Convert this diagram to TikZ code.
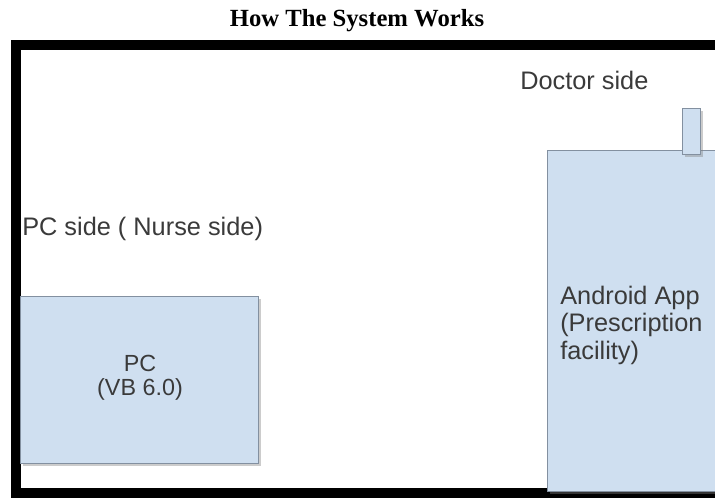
\documentclass[tikz,border=0pt]{standalone}
\usepackage{fontspec}
\setmainfont{Liberation Serif}
\setsansfont{Liberation Sans}
\usetikzlibrary{shadows}
\definecolor{boxfill}{HTML}{CFDFF0}
\definecolor{boxline}{HTML}{8390A0}
\definecolor{labeltext}{HTML}{3A3A3A}
\begin{document}
\begin{tikzpicture}[x=0.75pt,y=-0.75pt,
    box/.style={draw=boxline,fill=boxfill,line width=1pt,inner sep=0pt,anchor=north west,
      drop shadow={opacity=0.4,shadow xshift=2pt,shadow yshift=-2pt}},
    side/.style={font=\sffamily\fontsize{19}{20.6}\selectfont,text=labeltext,inner sep=0pt}]
    \useasboundingbox (0,0) rectangle (715,497);
    \clip (0,0) rectangle (715,497);
    \node (title) at (357,21) {\bfseries\fontsize{18.5}{20}\selectfont How The System Works};
    \draw[line width=7pt] (16,45) rectangle (800,493);
    % doctor side
    \node[box,minimum width=200*0.75pt,minimum height=341*0.75pt] (app) at (547,150) {};
    \node[box,minimum width=18*0.75pt,minimum height=46*0.75pt] (phone) at (682,108) {};
    \node[side,anchor=west] (doctor) at (520,80) {Doctor side};
    \node[side,anchor=west,align=left] (apptext) at (560,325) {Android App\\(Prescription\\facility)};
    % nurse side
    \node[side,anchor=west] (nurse) at (22,229) {PC side ( Nurse side)};
    \node[box,minimum width=238*0.75pt,minimum height=167*0.75pt] (pc) at (20,296) {};
    \node[side,font=\sffamily\fontsize{17.5}{18}\selectfont] (pcname) at (140,363) {PC};
    \node[side,font=\sffamily\fontsize{17.5}{18}\selectfont] (pclang) at (140,389) {(VB 6.0)};
\end{tikzpicture}
\end{document}
